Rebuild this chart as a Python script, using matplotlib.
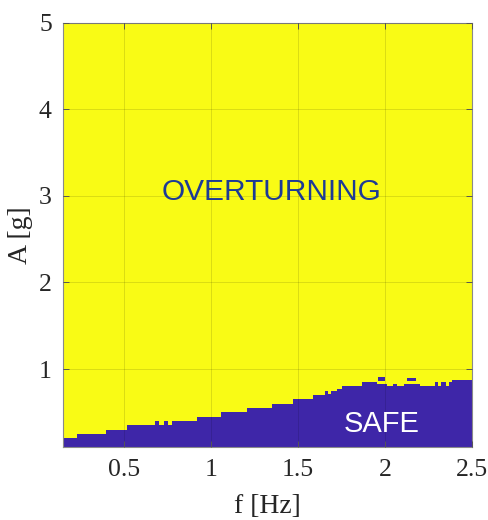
import matplotlib
matplotlib.use("Agg")
import matplotlib.pyplot as plt
import numpy as np

# Boundary of the SAFE region (staircase): f edges [Hz] and A top [g] per step
f_edges = [0.150, 0.229, 0.397, 0.516, 0.679, 0.702, 0.730, 0.755, 0.778, 0.918,
           1.058, 1.205, 1.349, 1.469, 1.585, 1.657, 1.673, 1.690, 1.722, 1.752,
           1.866, 1.952, 2.009, 2.044, 2.070, 2.107, 2.202, 2.288, 2.305, 2.322,
           2.351, 2.368, 2.386, 2.500]
A_top = [0.20, 0.25, 0.30, 0.35, 0.40, 0.35, 0.40, 0.35, 0.40, 0.45,
         0.50, 0.55, 0.60, 0.65, 0.70, 0.75, 0.71, 0.75, 0.775, 0.80,
         0.85, 0.825, 0.80, 0.825, 0.80, 0.825, 0.81, 0.855, 0.81, 0.855,
         0.81, 0.855, 0.87]

# Isolated SAFE cells above the boundary
island_f0 = [1.960, 2.127]
island_f1 = [2.000, 2.179]
island_A0 = [0.860, 0.860]
island_A1 = [0.907, 0.902]

xticks = [0.5, 1, 1.5, 2, 2.5]
yticks = [1, 2, 3, 4, 5]

YELLOW = "#F9FB15"
BLUE = "#3E26A8"

fig = plt.figure(figsize=(4.89, 5.20), dpi=100)
ax = fig.add_axes([0.1288, 0.1404, 0.9652 - 0.1288, 0.9563 - 0.1404])
ax.set_facecolor(YELLOW)

ax.stairs(A_top, f_edges, baseline=0.0, fill=True, color=BLUE, lw=0, zorder=1)
for f0, f1, a0, a1 in zip(island_f0, island_f1, island_A0, island_A1):
    ax.bar(f0, a1 - a0, width=f1 - f0, bottom=a0, align="edge",
           color=BLUE, lw=0, zorder=1)

ax.set_xlim(0.15, 2.5)
ax.set_ylim(0.1, 5)
ax.set_xticks(xticks)
ax.set_xticklabels(["0.5", "1", "1.5", "2", "2.5"])
ax.set_yticks(yticks)
ax.set_yticklabels([str(t) for t in yticks])

ax.grid(True, color="k", alpha=0.12, lw=0.7)
ax.set_axisbelow(False)

for s in ax.spines.values():
    s.set_color("#8a8a8a")
    s.set_linewidth(0.8)
ax.tick_params(direction="in", length=4, width=0.7, color="#555555",
               top=True, right=True, labelsize=18.5, labelcolor="#262626")
ax.tick_params(axis="x", pad=9)
ax.tick_params(axis="y", pad=8)
for lab in ax.get_xticklabels() + ax.get_yticklabels():
    lab.set_fontfamily("Liberation Serif")

ax.set_xlabel("f [Hz]", fontfamily="Liberation Serif", fontsize=20,
              color="#262626", labelpad=9)
ax.set_ylabel("A [g]", fontfamily="Liberation Serif", fontsize=20,
              color="#262626", labelpad=4)

ax.text(1.35, 3.04, "OVERTURNING", fontfamily="Liberation Sans", fontsize=21.5,
        color="#1d3a96", ha="center", va="center", zorder=5)
ax.text(1.983, 0.37, "SAFE", fontfamily="Liberation Sans", fontsize=21,
        color="white", ha="center", va="center", zorder=5)

fig.savefig("out.png", dpi=100)
